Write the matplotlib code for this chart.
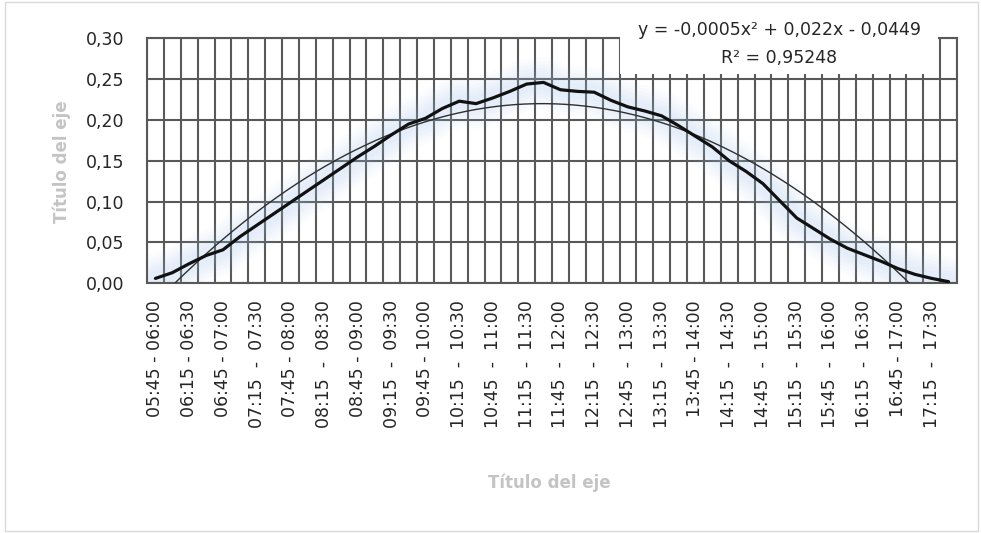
import numpy as np
import matplotlib
matplotlib.use("Agg")
import matplotlib.pyplot as plt
from matplotlib.patches import Rectangle

# 48 quarter-hour intervals, 05:45-06:00 ... 17:30-17:45
categories = ["%02d:%02d - %02d:%02d" % ((345 + 15 * i) // 60, (345 + 15 * i) % 60,
                                          (360 + 15 * i) // 60, (360 + 15 * i) % 60)
              for i in range(48)]

values = [0.006, 0.013, 0.024, 0.034, 0.041, 0.057, 0.071, 0.085, 0.099, 0.113,
          0.127, 0.141, 0.155, 0.168, 0.182, 0.195, 0.202, 0.214, 0.223, 0.220,
          0.227, 0.235, 0.244, 0.246, 0.237, 0.235, 0.234, 0.224, 0.216, 0.211,
          0.205, 0.193, 0.180, 0.167, 0.150, 0.137, 0.122, 0.101, 0.080, 0.067,
          0.054, 0.043, 0.035, 0.027, 0.018, 0.011, 0.006, 0.002]

tick_labels = ["05:45 - 06:00", "06:15 - 06:30", "06:45 - 07:00", "07:15  -  07:30",
               "07:45 - 08:00", "08:15  -  08:30", "08:45 - 09:00", "09:15  -  09:30",
               "09:45 - 10:00", "10:15  -  10:30", "10:45  -  11:00", "11:15  -  11:30",
               "11:45  -  12:00", "12:15  -  12:30", "12:45  -  13:00", "13:15  -  13:30",
               "13:45 - 14:00", "14:15  -  14:30", "14:45  -  15:00", "15:15  -  15:30",
               "15:45  -  16:00", "16:15  -  16:30", "16:45 - 17:00", "17:15  -  17:30"]

y_ticks = [0.00, 0.05, 0.10, 0.15, 0.20, 0.25, 0.30]
y_tick_labels = ["0,00", "0,05", "0,10", "0,15", "0,20", "0,25", "0,30"]

eq_text = "y = -0,0005x² + 0,022x - 0,0449"
r2_text = "R² = 0,95248"
axis_title = "Título del eje"

W, H = 981, 533
fig = plt.figure(figsize=(W / 100, H / 100), dpi=100)
fig.patch.set_facecolor("white")

# outer chart frame
fig.add_artist(Rectangle((5 / W, 2 / H), 973 / W, 529 / H, transform=fig.transFigure,
                         fill=False, edgecolor="#d9d9d9", linewidth=1.0))

left, right, top, bottom = 147, 957, 38.3, 283.3
ax = fig.add_axes([left / W, 1 - bottom / H, (right - left) / W, (bottom - top) / H])

x = np.arange(len(values))
vals = np.array(values)
grid_c = "#595959"

ax.set_xlim(-0.5, len(values) - 0.5)
ax.set_ylim(0, 0.30)

# gridlines
ax.set_xticks(np.arange(-0.5, len(values), 1.0), minor=True)
ax.set_yticks(y_ticks)
ax.set_yticklabels(y_tick_labels)
ax.set_xticks(x[::2])
ax.set_xticklabels(tick_labels, rotation=90, va="top", ha="center")
ax.grid(True, which="minor", axis="x", color=grid_c, linewidth=1.5, zorder=1)
ax.grid(True, which="major", axis="y", color=grid_c, linewidth=1.5, zorder=1)
ax.grid(False, which="major", axis="x")
ax.set_axisbelow(True)
for s in ax.spines.values():
    s.set_color(grid_c)
    s.set_linewidth(1.5)
ax.tick_params(axis="both", which="both", length=0)
ax.tick_params(axis="y", pad=16, labelsize=12.5, labelcolor="#262626")
ax.tick_params(axis="x", pad=12, labelsize=12.5, labelcolor="#262626")

# soft glow around main series
for lw, a in [(36, 0.035), (31, 0.04), (26, 0.045), (21, 0.05), (16, 0.055), (11, 0.06)]:
    ax.plot(x, vals, color="#9cc6ea", linewidth=lw, alpha=a,
            solid_capstyle="round", solid_joinstyle="round", zorder=2)

# main series
ax.plot(x, vals, color="#111111", linewidth=2.3, solid_joinstyle="round",
        solid_capstyle="round", zorder=4)

# polynomial trendline (order 2) fitted from the data
xp = np.arange(1, len(values) + 1)
coef = np.polyfit(xp, vals, 2)
xt = np.linspace(1, len(values), 400)
ax.plot(xt - 1, np.polyval(coef, xt), color="#303030", linewidth=1.0, zorder=3)

# trendline label box
bx0 = (620 - left) / (right - left)
bx1 = (938 - left) / (right - left)
by0 = (bottom - 74) / (bottom - top)
ax.add_patch(Rectangle((bx0, by0), bx1 - bx0, 1.05 - by0, transform=ax.transAxes,
                       facecolor="white", edgecolor="none", zorder=5, clip_on=False))
cx = (bx0 + bx1) / 2
ax.text(cx, (bottom - 30) / (bottom - top), eq_text, transform=ax.transAxes,
        ha="center", va="center", fontsize=12.5, color="#262626", zorder=6)
ax.text(cx, (bottom - 58) / (bottom - top), r2_text, transform=ax.transAxes,
        ha="center", va="center", fontsize=12.5, color="#262626", zorder=6)

# axis titles
fig.text(62 / W, 1 - 162 / H, axis_title, rotation=90, ha="center", va="center",
         fontsize=12, fontweight="bold", color="#c4c4c4")
fig.text(549 / W, 1 - 483 / H, axis_title, ha="center", va="center",
         fontsize=12, fontweight="bold", color="#c4c4c4")

fig.savefig("out.png", dpi=100, facecolor="white")
